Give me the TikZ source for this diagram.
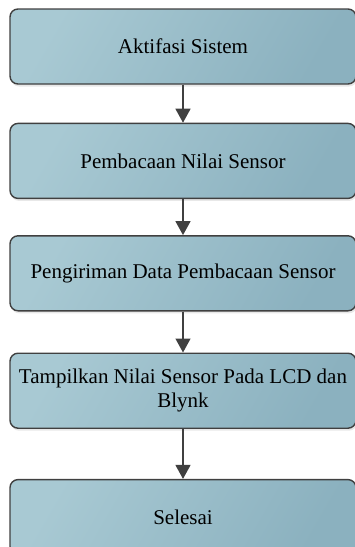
\documentclass[tikz,border=0pt]{standalone}
\usepackage{fontspec}
\setmainfont{Liberation Serif}
\usepackage{xcolor}
\usepackage{tikz}
\usetikzlibrary{positioning, arrows.meta, shadows}
\definecolor{boxlight}{RGB}{168,201,211}
\definecolor{boxdark}{RGB}{139,177,191}
\definecolor{edgegray}{RGB}{64,64,64}

\begin{document}
\begin{tikzpicture}[every node/.style={font=\fontsize{21}{23.5}\selectfont},
        stepbox/.style={draw=edgegray, line width=1.4pt, rounded corners=8pt, minimum width=346pt, minimum height=75pt,
          align=center, inner sep=2pt, left color=boxlight, right color=boxdark, shading angle=60,
          drop shadow={opacity=0.18, shadow xshift=1pt, shadow yshift=-2.5pt}},
        arr/.style={-{Triangle[length=14pt, width=15pt]}, line width=1.4pt, draw=edgegray, fill=edgegray}]
      \useasboundingbox (0,0) rectangle (355pt,-547pt);
      \node[stepbox] (aktif) at (183pt,-46.5pt) {Aktifasi Sistem};
      \node[stepbox, below=38pt of aktif] (baca) {Pembacaan Nilai Sensor};
      \node[stepbox, below=36pt of baca] (kirim) {Pengiriman Data Pembacaan Sensor};
      \node[stepbox, below=41pt of kirim] (tampil) {Tampilkan Nilai Sensor Pada LCD dan\\Blynk};
      \node[stepbox, below=50pt of tampil] (selesai) {Selesai};

      \draw[arr](aktif)--(baca);
      \draw[arr](baca)--(kirim);
      \draw[arr](kirim)--(tampil);
      \draw[arr](tampil)--(selesai);
    \end{tikzpicture}
\end{document}
